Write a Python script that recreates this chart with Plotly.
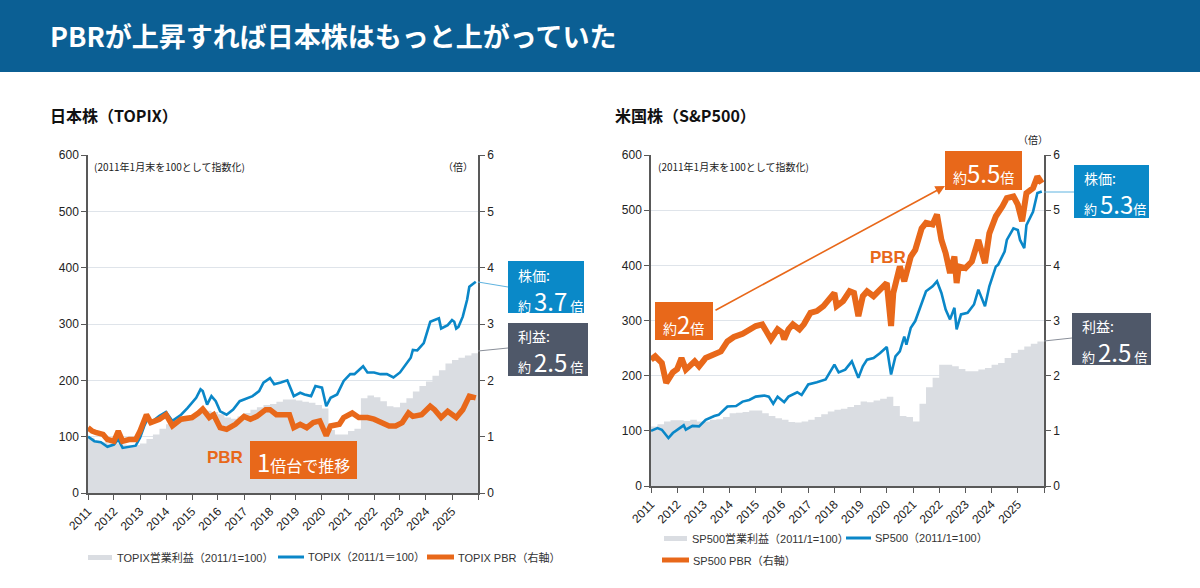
import plotly.graph_objects as go
import pandas as pd

W, H = 1200, 588
def px(x): return x / W
def py(y): return 1 - y / H

# ---------------- data ----------------
year_ticks = [f"{y}-01-01" for y in range(2011, 2027)]
year_labels = [str(y) for y in range(2011, 2026)] + [""]

# Japan (TOPIX)
topix_dates = ["2011-01", "2011-04", "2011-07", "2011-10", "2012-01", "2012-03", "2012-05", "2012-08", "2012-11",
               "2013-01", "2013-03", "2013-05", "2013-06", "2013-10", "2014-01", "2014-04", "2014-08", "2014-11",
               "2015-03", "2015-05", "2015-06", "2015-08", "2015-10", "2015-12", "2016-02", "2016-05", "2016-08",
               "2016-11", "2017-01", "2017-05", "2017-08", "2017-10", "2018-01", "2018-03", "2018-06", "2018-09",
               "2018-12", "2019-03", "2019-05", "2019-08", "2019-10", "2020-01", "2020-03", "2020-05", "2020-08",
               "2020-11", "2021-02", "2021-04", "2021-08", "2021-10", "2022-01", "2022-04", "2022-07", "2022-10",
               "2023-01", "2023-03", "2023-06", "2023-07", "2023-09", "2023-12", "2024-02", "2024-03", "2024-05",
               "2024-07", "2024-08", "2024-11", "2025-01", "2025-02", "2025-03", "2025-04", "2025-06", "2025-08",
               "2025-09", "2025-11", "2025-12"]
topix_vals = [100, 92, 90, 82, 86, 95, 80, 82, 84,
              98, 119, 136, 125, 137, 144, 128, 139, 151,
              169, 184, 181, 157, 172, 163, 145, 139, 148,
              163, 166, 172, 181, 196, 204, 193, 196, 200,
              172, 178, 175, 172, 190, 187, 154, 169, 175,
              199, 211, 211, 225, 214, 214, 211, 211, 205,
              214, 225, 240, 254, 253, 266, 290, 304, 307,
              310, 292, 298, 307, 304, 292, 295, 313, 343,
              366, 373, 375]

topix_pbr_dates = ["2011-01", "2011-03", "2011-05", "2011-08", "2011-10", "2012-01", "2012-03", "2012-05", "2012-08",
                   "2012-11", "2013-01", "2013-04", "2013-06", "2013-10", "2014-01", "2014-04", "2014-08", "2015-01",
                   "2015-04", "2015-06", "2015-09", "2015-11", "2016-02", "2016-05", "2016-09", "2017-01", "2017-04",
                   "2017-07", "2017-11", "2018-01", "2018-04", "2018-07", "2018-10", "2018-12", "2019-03", "2019-06",
                   "2019-09", "2019-12", "2020-03", "2020-05", "2020-09", "2020-11", "2021-03", "2021-06", "2021-10",
                   "2022-01", "2022-04", "2022-08", "2022-11", "2023-02", "2023-05", "2023-07", "2023-11", "2024-03",
                   "2024-05", "2024-08", "2024-11", "2025-03", "2025-06", "2025-09", "2025-12"]
topix_pbr_vals = [1.16, 1.10, 1.07, 1.04, 0.95, 0.92, 1.10, 0.92, 0.95,
                  0.95, 1.10, 1.39, 1.25, 1.31, 1.39, 1.19, 1.31, 1.34,
                  1.42, 1.49, 1.34, 1.39, 1.16, 1.13, 1.22, 1.36, 1.31,
                  1.36, 1.48, 1.48, 1.39, 1.39, 1.39, 1.16, 1.22, 1.16,
                  1.25, 1.28, 1.02, 1.19, 1.22, 1.34, 1.42, 1.34, 1.34,
                  1.31, 1.25, 1.19, 1.19, 1.25, 1.42, 1.36, 1.39, 1.54,
                  1.48, 1.34, 1.45, 1.34, 1.48, 1.72, 1.69]

topix_earn_vals = [98, 92, 90, 88, 88, 86, 85, 85, 88, 96, 104, 114,
                   122, 126, 130, 134, 138, 142, 146, 144, 140, 134, 132, 136,
                   142, 148, 152, 156, 158, 162, 166, 166, 164, 162, 160, 156,
                   150, 112, 104, 104, 110, 114, 168, 173, 170, 163, 154, 152,
                   160, 168, 180, 190, 198, 208, 218, 230, 236, 240, 244, 248, 250]

# US (S&P500)
sp_dates = ["2011-01", "2011-04", "2011-06", "2011-09", "2011-11", "2012-01", "2012-04", "2012-05", "2012-08",
            "2012-11", "2013-02", "2013-06", "2013-08", "2013-12", "2014-04", "2014-07", "2014-10", "2015-01",
            "2015-05", "2015-07", "2015-09", "2015-11", "2016-02", "2016-04", "2016-08", "2016-10", "2017-01",
            "2017-05", "2017-09", "2018-01", "2018-03", "2018-06", "2018-09", "2018-12", "2019-02", "2019-04",
            "2019-07", "2019-10", "2020-01", "2020-03", "2020-05", "2020-07", "2020-09", "2020-10", "2020-12",
            "2021-02", "2021-05", "2021-07", "2021-10", "2021-12", "2022-02", "2022-04", "2022-06", "2022-08",
            "2022-09", "2022-11", "2023-02", "2023-05", "2023-07", "2023-10", "2023-12", "2024-03", "2024-04",
            "2024-07", "2024-08", "2024-11", "2025-01", "2025-02", "2025-04", "2025-05", "2025-08", "2025-10",
            "2025-12"]
sp_vals = [100, 105, 102, 87, 96, 102, 110, 102, 109,
           108, 120, 127, 129, 144, 145, 153, 156, 162,
           164, 162, 149, 162, 152, 162, 170, 165, 184,
           188, 193, 220, 206, 211, 226, 196, 217, 229,
           232, 241, 252, 202, 235, 244, 271, 256, 287,
           299, 332, 353, 362, 371, 350, 320, 302, 323,
           284, 311, 314, 329, 356, 326, 362, 398, 401,
           425, 446, 467, 464, 446, 431, 473, 497, 531,
           534]

sp_pbr_dates = ["2011-01", "2011-03", "2011-06", "2011-08", "2011-11", "2012-01", "2012-03", "2012-05", "2012-09",
                "2012-11", "2013-02", "2013-06", "2013-09", "2013-12", "2014-03", "2014-07", "2014-10", "2015-01",
                "2015-04", "2015-08", "2015-11", "2016-01", "2016-02", "2016-04", "2016-06", "2016-09", "2016-11",
                "2017-02", "2017-05", "2017-08", "2018-01", "2018-02", "2018-05", "2018-08", "2018-10", "2018-12",
                "2019-02", "2019-04", "2019-07", "2019-11", "2020-01", "2020-03", "2020-04", "2020-07", "2020-09",
                "2020-12", "2021-02", "2021-05", "2021-07", "2021-10", "2021-12", "2022-02", "2022-04", "2022-06",
                "2022-08", "2022-09", "2022-10", "2023-01", "2023-04", "2023-07", "2023-10", "2023-12", "2024-03",
                "2024-06", "2024-08", "2024-11", "2025-01", "2025-03", "2025-05", "2025-08", "2025-10", "2025-12"]
sp_pbr_vals = [2.29, 2.35, 2.23, 1.87, 2.06, 2.12, 2.32, 2.11, 2.26,
               2.17, 2.32, 2.38, 2.44, 2.62, 2.70, 2.76, 2.84, 2.90,
               2.93, 2.66, 2.84, 2.78, 2.66, 2.84, 2.93, 2.84, 2.93,
               3.14, 3.17, 3.26, 3.50, 3.26, 3.35, 3.53, 3.50, 3.08,
               3.44, 3.53, 3.44, 3.62, 3.68, 2.90, 3.50, 3.98, 3.71,
               4.16, 4.28, 4.67, 4.77, 4.74, 4.92, 4.46, 4.22, 3.86,
               4.16, 3.68, 3.98, 3.95, 4.07, 4.46, 4.04, 4.58, 4.89,
               5.07, 5.22, 5.25, 5.10, 4.80, 5.31, 5.40, 5.61, 5.49]

sp_earn_vals = [108, 112, 117, 119, 119, 118, 120, 117, 117, 120, 121, 125,
                132, 133, 134, 137, 137, 132, 127, 123, 120, 116, 115, 117,
                120, 125, 130, 135, 138, 140, 143, 147, 153, 152, 155, 158,
                162, 145, 127, 125, 117, 149, 179, 196, 220, 220, 217, 212,
                208, 208, 211, 214, 220, 223, 232, 241, 247, 253, 258, 262, 263]

quarter_dates = [d.strftime("%Y-%m-%d") for d in pd.date_range("2011-01-01", "2025-10-01", freq="QS")] + ["2025-12-31"]

# ---------------- style ----------------
BLUE = "#0a87c8"
ORANGE = "#e8681a"
GRAY_AREA = "#dadde2"
BOX_BLUE = "#0a89c8"
BOX_GRAY = "#4f5869"
AXIS = "#595959"
GRID = "#dfe4ea"
FONT = "Liberation Sans, Arial, Noto Sans CJK JP, sans-serif"
JFONT = "Noto Sans CJK JP, Liberation Sans, sans-serif"

fig = go.Figure()

def to_dt(lst):
    return pd.to_datetime(lst)

# left chart
fig.add_trace(go.Scatter(x=to_dt(quarter_dates), y=topix_earn_vals, mode="lines", line=dict(width=0, shape="hv", color=GRAY_AREA),
                         fill="tozeroy", fillcolor=GRAY_AREA, xaxis="x", yaxis="y", showlegend=False, hoverinfo="skip"))
fig.add_trace(go.Scatter(x=to_dt(topix_dates), y=topix_vals, mode="lines", line=dict(width=2.6, color=BLUE),
                         xaxis="x", yaxis="y", showlegend=False))
fig.add_trace(go.Scatter(x=to_dt(topix_pbr_dates), y=topix_pbr_vals, mode="lines", line=dict(width=5.5, color=ORANGE),
                         xaxis="x", yaxis="y2", showlegend=False))
# right chart
fig.add_trace(go.Scatter(x=to_dt(quarter_dates), y=sp_earn_vals, mode="lines", line=dict(width=0, shape="hv", color=GRAY_AREA),
                         fill="tozeroy", fillcolor=GRAY_AREA, xaxis="x2", yaxis="y3", showlegend=False, hoverinfo="skip"))
fig.add_trace(go.Scatter(x=to_dt(sp_dates), y=sp_vals, mode="lines", line=dict(width=2.6, color=BLUE),
                         xaxis="x2", yaxis="y3", showlegend=False))
fig.add_trace(go.Scatter(x=to_dt(sp_pbr_dates), y=sp_pbr_vals, mode="lines", line=dict(width=6, color=ORANGE),
                         xaxis="x2", yaxis="y4", showlegend=False))

tickfont = dict(family=FONT, size=12, color="#222")
xcommon = dict(type="date", range=["2011-01-01", "2026-01-01"], tickmode="array", tickvals=year_ticks, ticktext=year_labels,
               tickangle=-45, ticks="outside", ticklen=5, tickcolor=AXIS, showline=True, linecolor=AXIS, linewidth=1.5,
               showgrid=False, zeroline=False, tickfont=tickfont, automargin=False)
ycommon = dict(range=[0, 600], tickvals=[0, 100, 200, 300, 400, 500, 600], ticks="outside", ticklen=5, tickcolor=AXIS,
               showline=True, linecolor=AXIS, linewidth=1.5, showgrid=True, gridcolor=GRID, gridwidth=1.2,
               zeroline=False, tickfont=tickfont, automargin=False)
y2common = dict(range=[0, 6], tickvals=[0, 1, 2, 3, 4, 5, 6], ticks="outside", ticklen=5, tickcolor=AXIS,
                showline=True, linecolor=AXIS, linewidth=1.5, showgrid=False, zeroline=False, tickfont=tickfont,
                side="right", automargin=False)

L = (88, 478, 155, 493)
R = (651, 1044, 155, 486)

fig.update_layout(
    width=W, height=H, autosize=False, margin=dict(l=0, r=0, t=0, b=0, pad=0), paper_bgcolor="white", plot_bgcolor="white",
    xaxis=dict(domain=[px(L[0]), px(L[1])], anchor="y", **xcommon),
    yaxis=dict(domain=[py(L[3]), py(L[2])], anchor="x", **ycommon),
    yaxis2=dict(overlaying="y", anchor="x", **y2common),
    xaxis2=dict(domain=[px(R[0]), px(R[1])], anchor="y3", **xcommon),
    yaxis3=dict(domain=[py(R[3]), py(R[2])], anchor="x2", **ycommon),
    yaxis4=dict(overlaying="y3", anchor="x2", **y2common),
    showlegend=False,
)

shapes = []
annots = []

def rect(x0, y0, x1, y1, color):
    shapes.append(dict(type="rect", xref="paper", yref="paper", x0=px(x0), x1=px(x1), y0=py(y1), y1=py(y0),
                       fillcolor=color, line=dict(width=0), layer="above"))

def line(x0, y0, x1, y1, color, w=1):
    shapes.append(dict(type="line", xref="paper", yref="paper", x0=px(x0), x1=px(x1), y0=py(y0), y1=py(y1),
                       line=dict(color=color, width=w), layer="above"))

def text(x, y, t, size=12, color="#222", xanchor="left", family=JFONT, bold=False):
    if bold:
        t = f"<b>{t}</b>"
    annots.append(dict(xref="paper", yref="paper", x=px(x), y=py(y), text=t, showarrow=False, xanchor=xanchor,
                       yanchor="middle", font=dict(family=family, size=size, color=color)))

# title bar
shapes.append(dict(type="rect", xref="paper", yref="paper", x0=0, x1=1, y0=py(72), y1=1, fillcolor="#0b5f94",
                   line=dict(width=0), layer="below"))
text(48, 36, "PBRが上昇すれば日本株はもっと上がっていた", size=27, color="white", bold=True)

# subtitles
text(48, 115, "日本株（TOPIX）", size=16, color="#111", bold=True)
text(613, 115, "米国株（S&P500）", size=16, color="#111", bold=True)

# notes
text(92, 166, "(2011年1月末を100として指数化)", size=10, color="#222")
text(475, 166, "（倍）", size=10, color="#222", xanchor="right")
text(656, 166, "(2011年1月末を100として指数化)", size=10, color="#222")
text(1050, 139, "（倍）", size=10, color="#222", xanchor="right")

# left annotations
line(478, 282, 508, 287, "#5fb3e0", 1)
line(478, 351, 508, 348, "#8a8f99", 1)
rect(508, 261, 584, 313, BOX_BLUE)
rect(508, 323, 588, 376, BOX_GRAY)
text(516, 275, "株価:", size=14, color="white")
text(516, 300, "約 <span style='font-size:24px'>3.7</span> 倍", size=13, color="white")
text(516, 336, "利益:", size=14, color="white")
text(516, 361, "約 <span style='font-size:24px'>2.5</span> 倍", size=13, color="white")
text(205, 457, "PBR", size=17, color=ORANGE, bold=True, family=FONT)
rect(250, 441, 357, 479, ORANGE)
text(303, 461, "<span style='font-size:24px'>1</span>倍台で推移", size=16, color="white", xanchor="center")

# right annotations
line(1044, 192, 1074, 192, "#5fb3e0", 1)
line(1044, 341, 1072, 338, "#8a8f99", 1)
rect(1074, 165, 1149, 218, BOX_BLUE)
rect(1072, 313, 1151, 365, BOX_GRAY)
text(1082, 178, "株価:", size=14, color="white")
text(1082, 203, "約 <span style='font-size:24px'>5.3</span>倍", size=13, color="white")
text(1080, 326, "利益:", size=14, color="white")
text(1080, 351, "約 <span style='font-size:24px'>2.5</span> 倍", size=13, color="white")
text(868, 258, "PBR", size=17, color=ORANGE, bold=True, family=FONT)
rect(945, 151, 1022, 190, ORANGE)
text(983, 172, "約<span style='font-size:24px'>5.5</span>倍", size=14, color="white", xanchor="center")
rect(655, 302, 713, 340, ORANGE)
text(684, 323, "約<span style='font-size:24px'>2</span>倍", size=14, color="white", xanchor="center")
annots.append(dict(xref="paper", yref="paper", x=px(945), y=py(186), ax=714 - 945, ay=311 - 186, axref="pixel", ayref="pixel",
                   text="", showarrow=True, arrowhead=2, arrowsize=1.2, arrowwidth=1.6, arrowcolor=ORANGE, standoff=0))

# legends (left)
LEG = 11
rect(88, 555, 112, 560, GRAY_AREA)
text(115, 557, "TOPIX営業利益（2011/1=100）", size=LEG, color="#333", family=FONT)
line(278, 557, 304, 557, BLUE, 3)
text(306, 557, "TOPIX（2011/1＝100）", size=LEG, color="#333", family=FONT)
line(427, 557, 454, 557, ORANGE, 5)
text(456, 557, "TOPIX PBR（右軸）", size=LEG, color="#333", family=FONT)
# legends (right)
rect(664, 536, 687, 541, GRAY_AREA)
text(690, 538, "SP500営業利益（2011/1=100）", size=LEG, color="#333", family=FONT)
line(846, 538, 871, 538, BLUE, 3)
text(873, 538, "SP500（2011/1=100）", size=LEG, color="#333", family=FONT)
line(662, 560, 689, 560, ORANGE, 5)
text(691, 560, "SP500 PBR（右軸）", size=LEG, color="#333", family=FONT)

fig.update_layout(shapes=shapes, annotations=annots)
fig.write_html("out.html", post_script="document.body.style.margin='0';document.body.style.padding='0';document.body.style.overflow='hidden';")
